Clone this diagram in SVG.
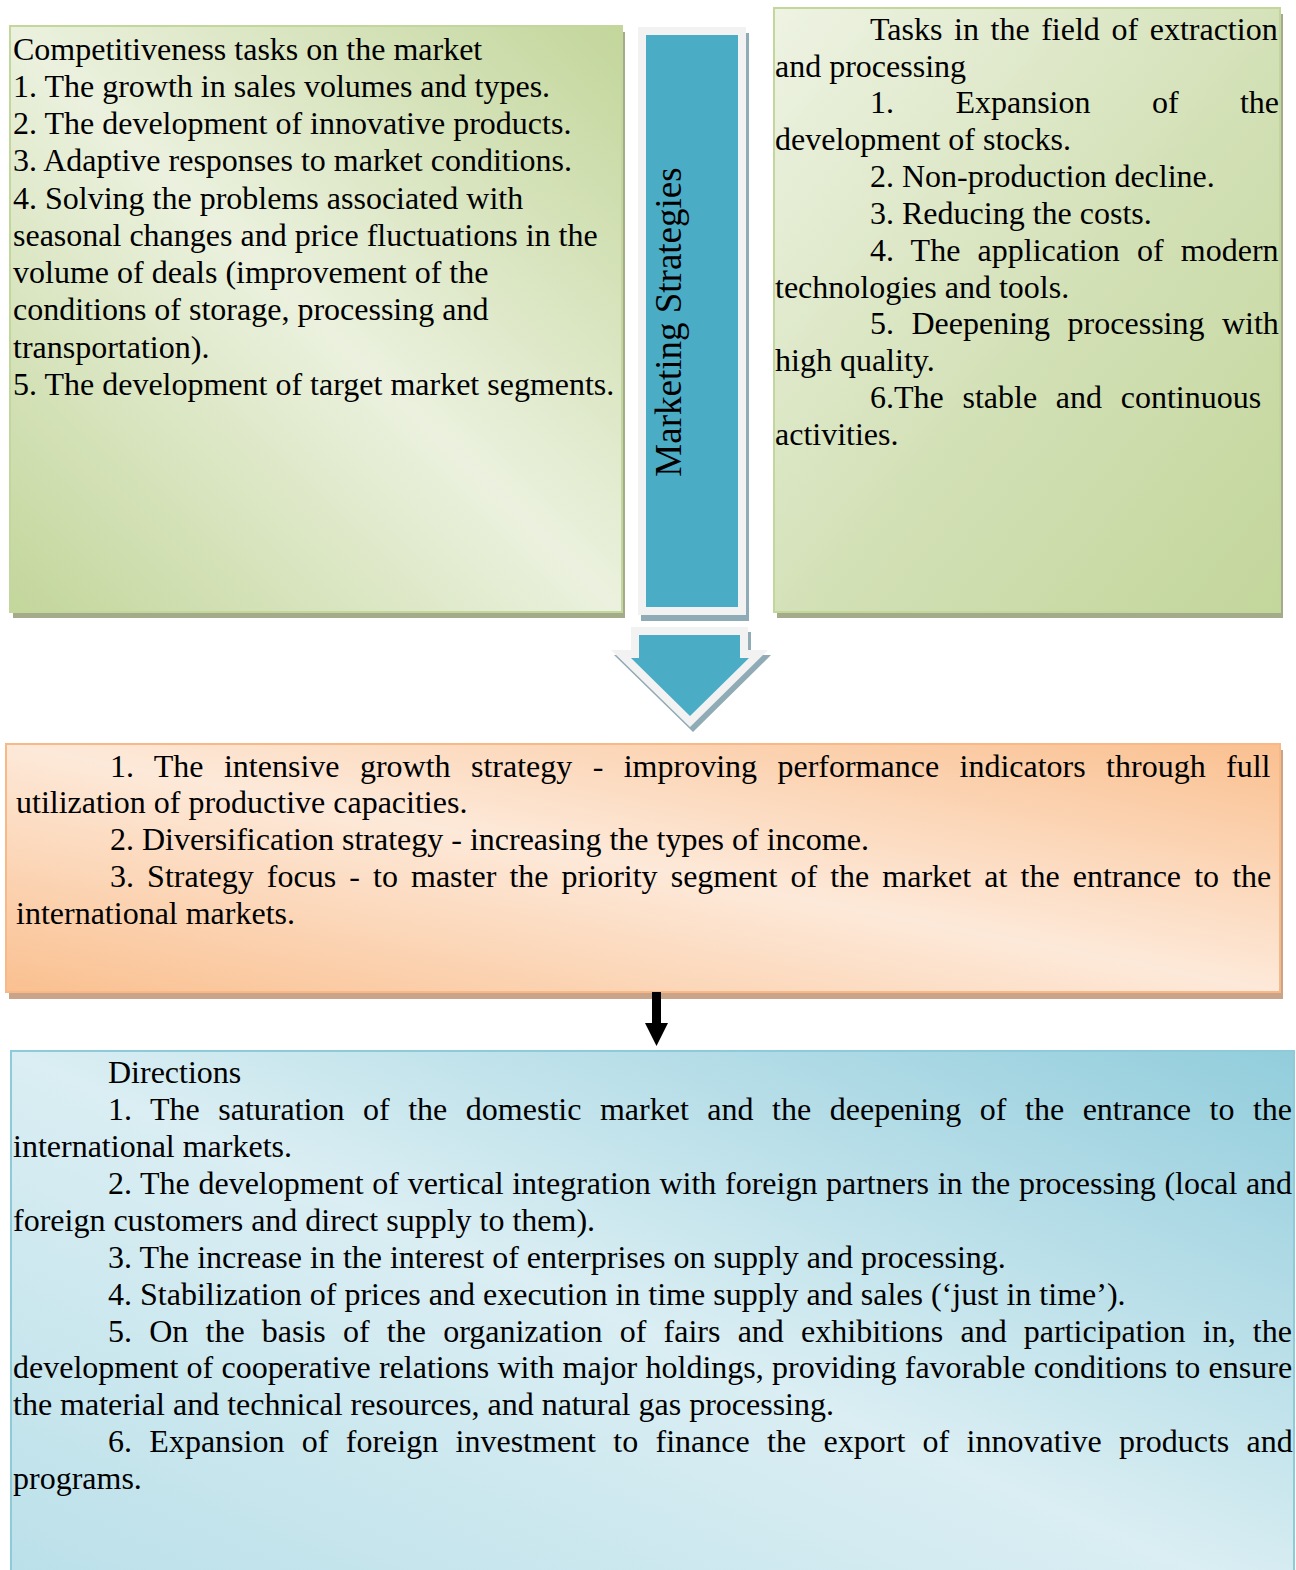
<svg xmlns="http://www.w3.org/2000/svg" width="1296" height="1570" viewBox="0 0 1296 1570">
<style>
.t { font-family: "Liberation Serif", "Times New Roman", serif; font-size: 32px; fill: #000; }
.v { font-family: "Liberation Serif", "Times New Roman", serif; font-size: 37px; fill: #000; }
.gbox { stroke: #c3d69b; stroke-width: 2; }
.gsh { fill: #a4ab8b; }
.obox { stroke: #f8b987; stroke-width: 2; }
.osh { fill: #c9a488; }
.bbox { stroke: #8dcbdb; stroke-width: 2; }
</style>
<defs>
<linearGradient id="gL" x1="1" y1="0" x2="0" y2="1">
<stop offset="0" stop-color="#c3d69b"/>
<stop offset="0.5" stop-color="#ebf1de"/>
<stop offset="1" stop-color="#c3d69b"/>
</linearGradient>
<linearGradient id="gR" x1="0" y1="0" x2="1" y2="1">
<stop offset="0" stop-color="#eef3e3"/>
<stop offset="0.55" stop-color="#d2e0b5"/>
<stop offset="1" stop-color="#c3d69b"/>
</linearGradient>
<linearGradient id="gO" x1="1" y1="0" x2="0" y2="1">
<stop offset="0" stop-color="#fac090"/>
<stop offset="0.5" stop-color="#fde9d9"/>
<stop offset="1" stop-color="#fac090"/>
</linearGradient>
<linearGradient id="gB" x1="1" y1="0" x2="0" y2="1">
<stop offset="0" stop-color="#92cddc"/>
<stop offset="0.5" stop-color="#daeef3"/>
<stop offset="1" stop-color="#b9dfe9"/>
</linearGradient>
</defs>
<rect width="1296" height="1570" fill="#ffffff"/>

<g id="competitiveness-tasks">
<rect class="gsh" x="13" y="32" width="612" height="586"/>
<rect class="gbox" x="10" y="26" width="612" height="586" fill="url(#gL)"/>
<text class="t" x="13" y="60">Competitiveness tasks on the market</text>
<text class="t" x="13" y="97">1. The growth in sales volumes and types.</text>
<text class="t" x="13" y="134">2. The development of innovative products.</text>
<text class="t" x="13" y="171">3. Adaptive responses to market conditions.</text>
<text class="t" x="13" y="209">4. Solving the problems associated with</text>
<text class="t" x="13" y="246">seasonal changes and price fluctuations in the</text>
<text class="t" x="13" y="283">volume of deals (improvement of the</text>
<text class="t" x="13" y="320">conditions of storage, processing and</text>
<text class="t" x="13" y="358">transportation).</text>
<text class="t" x="13" y="395">5. The development of target market segments.</text>
</g>

<g id="marketing-strategies">
<rect x="641" y="33" width="108" height="588" fill="#8fabb5"/>
<rect x="638" y="27" width="108" height="588" fill="#f2f2f2"/>
<rect x="646" y="35" width="92" height="572" fill="#4bacc6"/>
<text class="v" transform="translate(681,322) rotate(-90)" text-anchor="middle">Marketing Strategies</text>
</g>

<g id="extraction-tasks">
<rect class="gsh" x="777" y="14" width="506" height="604"/>
<rect class="gbox" x="774" y="8" width="506" height="604" fill="url(#gR)"/>
<text class="t" x="870" y="40" word-spacing="3.6">Tasks in the field of extraction</text>
<text class="t" x="775" y="77">and processing</text>
<text class="t" x="870" y="113" word-spacing="53.4">1. Expansion of the</text>
<text class="t" x="775" y="150">development of stocks.</text>
<text class="t" x="870" y="187">2. Non-production decline.</text>
<text class="t" x="870" y="224">3. Reducing the costs.</text>
<text class="t" x="870" y="261" word-spacing="9.2">4. The application of modern</text>
<text class="t" x="775" y="298">technologies and tools.</text>
<text class="t" x="870" y="334" word-spacing="9.5">5. Deepening processing with</text>
<text class="t" x="775" y="371">high quality.</text>
<text class="t" x="870" y="408" word-spacing="10.7">6.The stable and continuous</text>
<text class="t" x="775" y="445">activities.</text>
</g>

<g id="strategies">
<rect class="osh" x="9" y="750" width="1274" height="249"/>
<rect class="obox" x="6" y="744" width="1274" height="248" fill="url(#gO)"/>
<text class="t" x="110" y="777" word-spacing="12.4">1. The intensive growth strategy - improving performance indicators through full</text>
<text class="t" x="16" y="813">utilization of productive capacities.</text>
<text class="t" x="110" y="850">2. Diversification strategy - increasing the types of income.</text>
<text class="t" x="110" y="887" word-spacing="5.1">3. Strategy focus - to master the priority segment of the market at the entrance to the</text>
<text class="t" x="16" y="924">international markets.</text>
</g>

<g id="directions">
<rect class="bbox" x="11" y="1051" width="1283" height="560" fill="url(#gB)"/>
<text class="t" x="108" y="1083">Directions</text>
<text class="t" x="108" y="1120" word-spacing="10.55">1. The saturation of the domestic market and the deepening of the entrance to the</text>
<text class="t" x="13" y="1157">international markets.</text>
<text class="t" x="108" y="1194" word-spacing="0.63">2. The development of vertical integration with foreign partners in the processing (local and</text>
<text class="t" x="13" y="1231">foreign customers and direct supply to them).</text>
<text class="t" x="108" y="1268">3. The increase in the interest of enterprises on supply and processing.</text>
<text class="t" x="108" y="1305">4. Stabilization of prices and execution in time supply and sales (‘just in time’).</text>
<text class="t" x="108" y="1342" word-spacing="9.2">5. On the basis of the organization of fairs and exhibitions and participation in, the</text>
<text class="t" x="13" y="1378" word-spacing="0.27">development of cooperative relations with major holdings, providing favorable conditions to ensure</text>
<text class="t" x="13" y="1415">the material and technical resources, and natural gas processing.</text>
<text class="t" x="108" y="1452" word-spacing="9.35">6. Expansion of foreign investment to finance the export of innovative products and</text>
<text class="t" x="13" y="1489">programs.</text>
</g>

<g id="connectors">
<polygon points="634,632 751,632 751,655 771,655 693,732 614,655 634,655" fill="#8fabb5"/>
<polygon points="631,627 748,627 748,650 768,650 690,727 611,650 631,650" fill="#f2f2f2"/>
<polygon points="639,635 740,635 740,658 749,658 690,716 631,658 639,658" fill="#4bacc6"/>
<polygon points="652,992 661,992 661,1023 668,1023 656.5,1046 645,1023 652,1023" fill="#000000"/>
</g>
</svg>
